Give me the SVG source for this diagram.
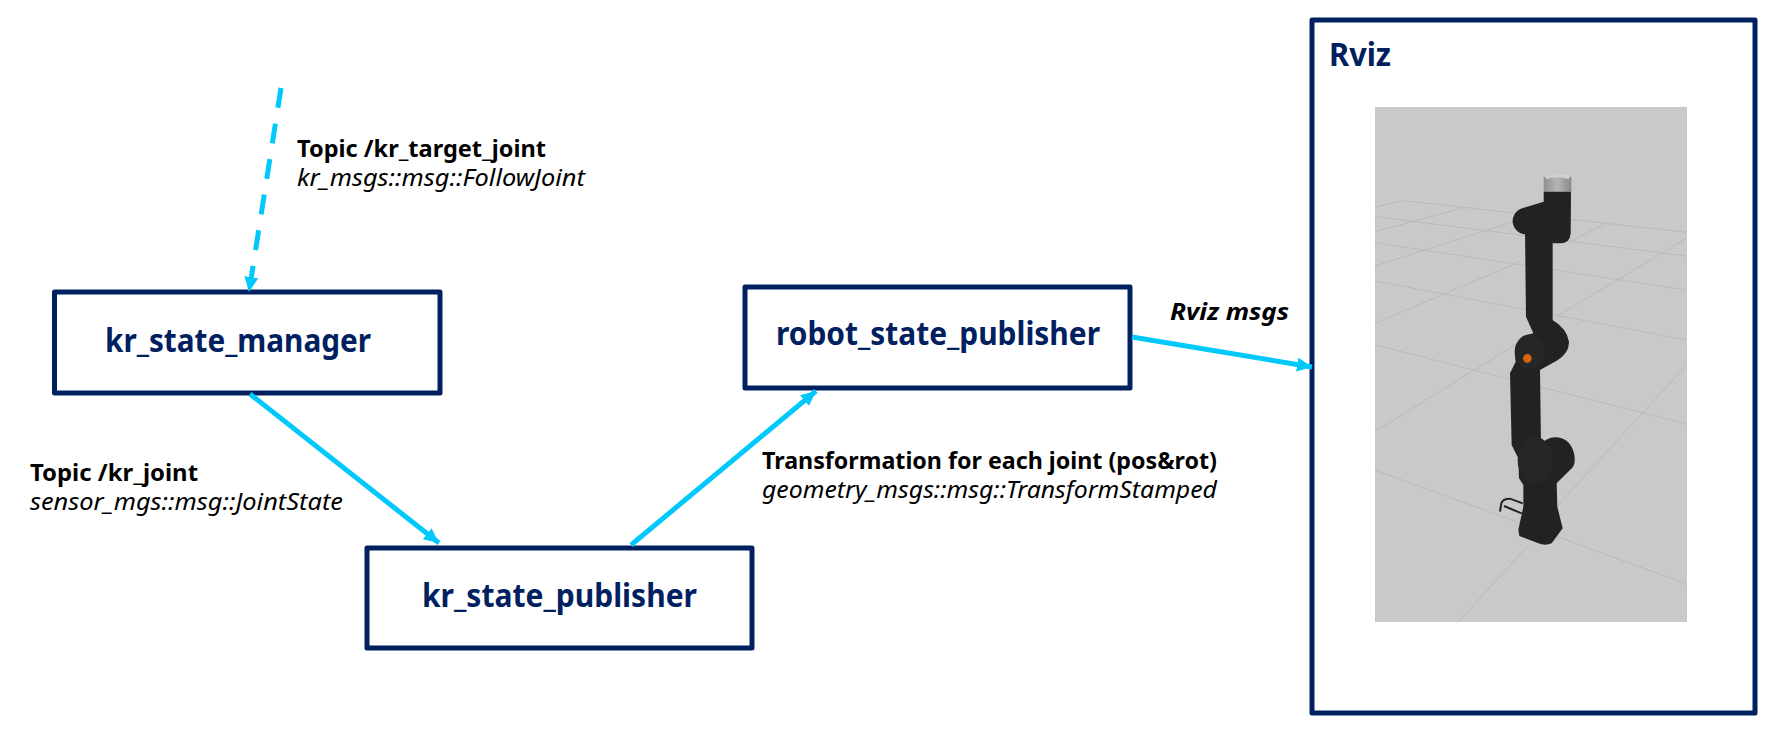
<svg xmlns="http://www.w3.org/2000/svg" width="1780" height="736" viewBox="0 0 1780 736">
<style>
.box{fill:#fff;stroke:#002060;stroke-width:5;stroke-linejoin:round}
.name{font-family:"Noto Sans","Liberation Sans",sans-serif;font-weight:700;font-size:32px;fill:#002060}
.lab{font-family:"Noto Sans","Liberation Sans",sans-serif;font-size:23.500px;fill:#000}
.b{font-weight:700}.i{font-style:italic}
.edge{fill:none;stroke:#00c8fa;stroke-width:5}
.grid{fill:none;stroke:#b9b9b9;stroke-width:3}
.rob{fill:#222}
</style>
<defs>
<marker id="arrow" markerUnits="userSpaceOnUse" markerWidth="17" markerHeight="16" refX="15" refY="7.500" orient="auto"><path d="M0 0.500L15 7.500L0 14.500z" fill="#00c8fa"/></marker>
<clipPath id="shot"><rect x="15" y="51" width="935" height="1544"/></clipPath>
<filter id="soft" x="-5%" y="-5%" width="110%" height="110%"><feGaussianBlur stdDeviation="1.600"/></filter>
<linearGradient id="tool" x1="0" x2="1" y1="0" y2="0"><stop offset="0" stop-color="#8f8f8f"/><stop offset=".5" stop-color="#b5b5b5"/><stop offset="1" stop-color="#8a8a8a"/></linearGradient>
</defs>
<rect width="1780" height="736" fill="#fff"/>
<g id="rviz">
<rect class="box" x="1312" y="20" width="443" height="693"/>
<text class="name" x="1329" y="66" textLength="62" lengthAdjust="spacingAndGlyphs">Rviz</text>
<rect x="1375" y="107" width="312" height="515" fill="#c9c9c9"/>
<g transform="translate(1370 90) scale(.33333)" clip-path="url(#shot)">
<g class="grid" filter="url(#soft)">
<path d="M15 352L100 332L950 427M15 380L950 498M15 458L950 600M15 573L950 750M15 765L950 1002M15 1140L950 1482"/>
<path d="M15 425L285 352M15 528L430 395M15 700L450 515M15 1025L450 755M550 685L950 445M600 455L710 400M265 1595L480 1360M560 1250L950 825"/>
</g>
<g filter="url(#soft)">
<path d="M521 262Q560 236 604 262L604 305L521 305z" fill="url(#tool)"/>
<path d="M525 258Q562 240 600 258L596 268Q562 255 529 268z" fill="#d0d0d0"/>
<path class="rob" d="M521 305L603 305L602 430Q600 460 570 460L548 460L521 440z"/>
<path class="rob" d="M465 420L548 400L548 690Q590 715 597 755Q598 790 560 812L510 840L513 1065Q530 1040 560 1042Q600 1045 612 1090Q620 1125 600 1140L560 1180L562 1250L578 1315L545 1360Q525 1368 505 1360L448 1338L445 1320L460 1250L460 1185L447 1165L445 1105L425 1065L420 850L437 815Q430 770 445 755Q460 735 490 730L468 680z"/>
<line x1="468" y1="393" x2="545" y2="370" stroke="#242424" stroke-width="80" stroke-linecap="round"/>
<ellipse cx="480" cy="785" rx="46" ry="52" fill="#272727"/>
<ellipse cx="495" cy="1110" rx="52" ry="70" fill="#262626"/>
<path d="M458 1240L420 1226Q398 1226 394 1240L390 1265M455 1270L402 1248" fill="none" stroke="#222" stroke-width="6"/>
</g>
<circle cx="472" cy="805" r="13" fill="#d9640f"/>
</g>
</g>
<g id="kr_state_manager">
<rect class="box" x="54.500" y="292" width="385.500" height="101"/>
<text class="name" x="105" y="352" textLength="266" lengthAdjust="spacingAndGlyphs">kr_state_manager</text>
</g>
<g id="kr_state_publisher">
<rect class="box" x="367" y="548" width="385" height="100"/>
<text class="name" x="422" y="607" textLength="275" lengthAdjust="spacingAndGlyphs">kr_state_publisher</text>
</g>
<g id="robot_state_publisher">
<rect class="box" x="745" y="287" width="385" height="101"/>
<text class="name" x="776" y="345" textLength="324" lengthAdjust="spacingAndGlyphs">robot_state_publisher</text>
</g>
<g id="connectors">
<path class="edge" d="M281 88L249 292" stroke-dasharray="20 16" marker-end="url(#arrow)"/>
<path class="edge" d="M250 394L439 543" marker-end="url(#arrow)"/>
<path class="edge" d="M631 545L816 391" marker-end="url(#arrow)"/>
<path class="edge" d="M1132 337L1312 367" marker-end="url(#arrow)"/>
</g>
<g id="labels">
<text class="lab b" x="297" y="157" textLength="249" lengthAdjust="spacingAndGlyphs">Topic /kr_target_joint</text>
<text class="lab i" x="297" y="186" textLength="288" lengthAdjust="spacingAndGlyphs">kr_msgs::msg::FollowJoint</text>
<text class="lab b" x="30" y="481" textLength="168" lengthAdjust="spacingAndGlyphs">Topic /kr_joint</text>
<text class="lab i" x="30" y="510" textLength="313" lengthAdjust="spacingAndGlyphs">sensor_mgs::msg::JointState</text>
<text class="lab b" x="762" y="469" textLength="455" lengthAdjust="spacingAndGlyphs">Transformation for each joint (pos&amp;rot)</text>
<text class="lab i" x="762" y="498" textLength="455" lengthAdjust="spacingAndGlyphs">geometry_msgs::msg::TransformStamped</text>
<text class="lab b i" x="1170" y="320" textLength="119" lengthAdjust="spacingAndGlyphs">Rviz msgs</text>
</g>
</svg>
